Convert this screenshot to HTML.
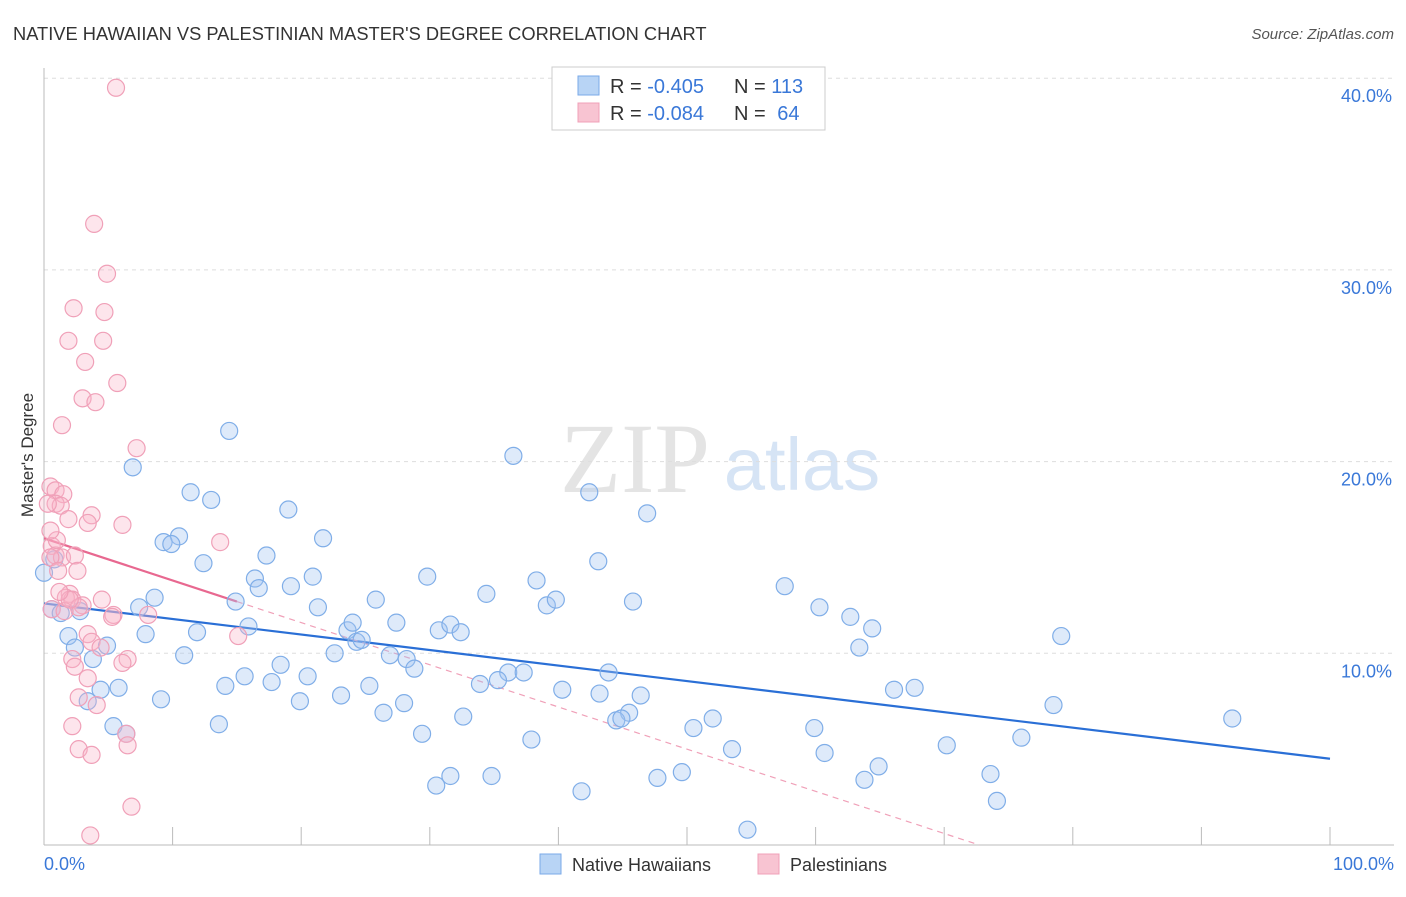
<!DOCTYPE html>
<html><head><meta charset="utf-8"><style>
body{margin:0;background:#fff;font-family:"Liberation Sans",sans-serif;}
</style></head><body>
<svg id="c" width="1406" height="892" xmlns="http://www.w3.org/2000/svg">
<text x="13" y="40" font-size="18.3" fill="#333">NATIVE HAWAIIAN VS PALESTINIAN MASTER'S DEGREE CORRELATION CHART</text>
<text x="1394" y="39" font-size="15" fill="#555" font-style="italic" text-anchor="end">Source: ZipAtlas.com</text>
<text x="33" y="455" font-size="17" fill="#333" text-anchor="middle" transform="rotate(-90 33 455)">Master's Degree</text>
<g><text x="635" y="492" font-size="100" font-family="Liberation Serif,serif" fill="#e4e4e4" text-anchor="middle">ZIP</text><text x="802" y="490" font-size="74" fill="#d6e4f5" text-anchor="middle">atlas</text></g>
<g id="grid"></g><g id="axes"></g><g id="lines"></g><g id="pts"></g>
<g>
<rect x="552" y="67" width="273" height="63" fill="#fff" stroke="#ccc"/>
<rect x="578" y="76" width="21" height="19" fill="#b8d4f5" stroke="#7aaae8"/>
<rect x="578" y="103" width="21" height="19" fill="#f8c4d2" stroke="#f0a0b8"/>
<text x="610" y="93" font-size="20" fill="#333">R = <tspan fill="#3a78d8">-0.405</tspan></text>
<text x="734" y="93" font-size="20" fill="#333">N = <tspan fill="#3a78d8">113</tspan></text>
<text x="610" y="120" font-size="20" fill="#333">R = <tspan fill="#3a78d8">-0.084</tspan></text>
<text x="734" y="120" font-size="20" fill="#333">N = <tspan fill="#3a78d8" dx="6">64</tspan></text>
</g>
<g>
<rect x="540" y="854" width="21" height="20" fill="#b8d4f5" stroke="#7aaae8"/>
<text x="572" y="871" font-size="18" fill="#333">Native Hawaiians</text>
<rect x="758" y="854" width="21" height="20" fill="#f8c4d2" stroke="#f0a0b8"/>
<text x="790" y="871" font-size="18" fill="#333">Palestinians</text>
</g>
</svg>
<script>
const blueX=[6.9,14.4,36.5,42.4,46.9,11.4,13.0,19.0,10.5,9.3,9.9,21.7,17.3,12.4,16.4,16.7,19.2,20.9,29.8,38.3,43.1,57.6,34.4,8.6,7.4,14.9,21.3,25.8,39.1,39.8,45.8,60.3,62.7,64.4,63.4,79.1,0.6,1.3,2.8,1.9,7.9,11.9,15.9,23.6,24.0,24.3,24.7,27.4,30.7,31.6,32.4,4.9,2.4,3.8,10.9,22.6,18.4,26.9,28.2,28.8,36.1,37.3,35.3,33.9,43.9,15.6,14.1,17.7,20.5,4.4,5.8,9.1,19.9,23.1,25.3,28.0,26.4,32.6,40.3,43.2,46.4,45.5,44.5,44.9,52.0,50.5,13.6,5.4,6.4,3.4,29.4,37.9,53.5,59.9,60.7,70.2,76.0,78.5,92.4,66.1,67.7,64.9,63.8,73.6,74.1,31.6,30.5,34.8,41.8,47.7,49.6,54.7,0,0.8];
const blueY=[19.7,21.6,20.3,18.4,17.3,18.4,18.0,17.5,16.1,15.8,15.7,16.0,15.1,14.7,13.9,13.4,13.5,14.0,14.0,13.8,14.8,13.5,13.1,12.9,12.4,12.7,12.4,12.8,12.5,12.8,12.7,12.4,11.9,11.3,10.3,10.9,12.3,12.1,12.2,10.9,11.0,11.1,11.4,11.2,11.6,10.6,10.7,11.6,11.2,11.5,11.1,10.4,10.3,9.7,9.9,10.0,9.4,9.9,9.7,9.2,9.0,9.0,8.6,8.4,9.0,8.8,8.3,8.5,8.8,8.1,8.2,7.6,7.5,7.8,8.3,7.4,6.9,6.7,8.1,7.9,7.8,6.9,6.5,6.6,6.6,6.1,6.3,6.2,5.8,7.5,5.8,5.5,5.0,6.1,4.8,5.2,5.6,7.3,6.6,8.1,8.2,4.1,3.4,3.7,2.3,3.6,3.1,3.6,2.8,3.5,3.8,0.8,14.2,14.9];
const pinkX=[5.6,3.9,4.9,2.3,4.7,1.9,4.6,3.2,5.7,3.0,4.0,1.4,7.2,0.5,0.9,1.5,0.9,1.3,0.3,3.7,3.4,6.1,1.9,13.7,0.6,0.9,1.4,2.4,0.5,1.1,2.6,2.0,1.7,2.2,3.0,4.5,5.4,8.1,2.7,3.4,3.7,15.1,2.2,2.4,6.5,6.1,3.4,2.7,4.1,2.2,6.4,6.5,2.7,3.7,6.8,3.6,0.6,1.6,1.0,0.5,5.3,2.0,1.2,4.4];
const pinkY=[39.5,32.4,29.8,28.0,27.8,26.3,26.3,25.2,24.1,23.3,23.1,21.9,20.7,18.7,18.5,18.3,17.8,17.7,17.8,17.2,16.8,16.7,17.0,15.8,15.6,15.1,15.0,15.1,15.0,14.3,14.3,13.1,12.9,12.8,12.5,12.8,12.0,12.0,12.4,11.0,10.6,10.9,9.7,9.3,9.7,9.5,8.7,7.7,7.3,6.2,5.8,5.2,5.0,4.7,2.0,0.5,12.3,12.2,15.9,16.4,11.9,12.8,13.2,10.3];
const yTicks=[10,20,30,40];
const yTickLabels=["10.0%","20.0%","30.0%","40.0%"];
const blueFit=[12.6,4.5];
const pinkFit=[16.0,-0.22];
const NS="http://www.w3.org/2000/svg";
const sx=v=>44+v*12.86, sy=v=>845-v*19.17;
function mk(t,a,p){const e=document.createElementNS(NS,t);for(const k in a)e.setAttribute(k,a[k]);p.appendChild(e);return e;}
const grid=document.getElementById('grid'),axes=document.getElementById('axes'),lines=document.getElementById('lines'),pts=document.getElementById('pts');
yTicks.forEach((t,i)=>{
 const g=mk('line',{x1:44,x2:1394,y1:sy(t),y2:sy(t),stroke:'#ddd','stroke-dasharray':'4,4'},grid);
 
 
 const l=mk('text',{x:1392,y:sy(t)+24,'font-size':18,fill:'#3a78d8','text-anchor':'end'},axes);
 l.textContent=yTickLabels[i];
 
 
});
const ax=mk('line',{x1:44,x2:1394,y1:845,y2:845,stroke:'#bbb'},axes);


const ay=mk('line',{x1:44,x2:44,y1:68,y2:845,stroke:'#bbb'},axes);


for(let i=1;i<=10;i++){const t=mk('line',{x1:sx(i*10),x2:sx(i*10),y1:827,y2:845,stroke:'#bbb'},axes);
 
 }
const xl0=mk('text',{x:44,y:870,'font-size':18,fill:'#3a78d8'},axes);xl0.textContent='0.0%';


const xl1=mk('text',{x:1394,y:870,'font-size':18,fill:'#3a78d8','text-anchor':'end'},axes);xl1.textContent='100.0%';


blueX.forEach((x,i)=>{const c=mk('circle',{cx:sx(x),cy:sy(blueY[i]),r:8.5,fill:'rgba(160,196,240,0.35)',stroke:'#80aee8','stroke-width':1.2},pts);
 
 });
pinkX.forEach((x,i)=>{const c=mk('circle',{cx:sx(x),cy:sy(pinkY[i]),r:8.5,fill:'rgba(248,180,200,0.35)',stroke:'#f0a0b8','stroke-width':1.2},pts);
 
 });
const bl=mk('line',{x1:sx(0),y1:sy(blueFit[0]),x2:sx(100),y2:sy(blueFit[1]),stroke:'#2a6fd6','stroke-width':2.2},lines);


const pe=-pinkFit[0]/pinkFit[1];
const pd=mk('line',{x1:sx(15),y1:sy(pinkFit[0]+15*pinkFit[1]),x2:sx(pe),y2:sy(0),stroke:'#f0a0b8','stroke-width':1.2,'stroke-dasharray':'6,5'},lines);


const ps=mk('line',{x1:sx(0),y1:sy(pinkFit[0]),x2:sx(15),y2:sy(pinkFit[0]+15*pinkFit[1]),stroke:'#e86890','stroke-width':2.2},lines);


</script>
</body></html>
